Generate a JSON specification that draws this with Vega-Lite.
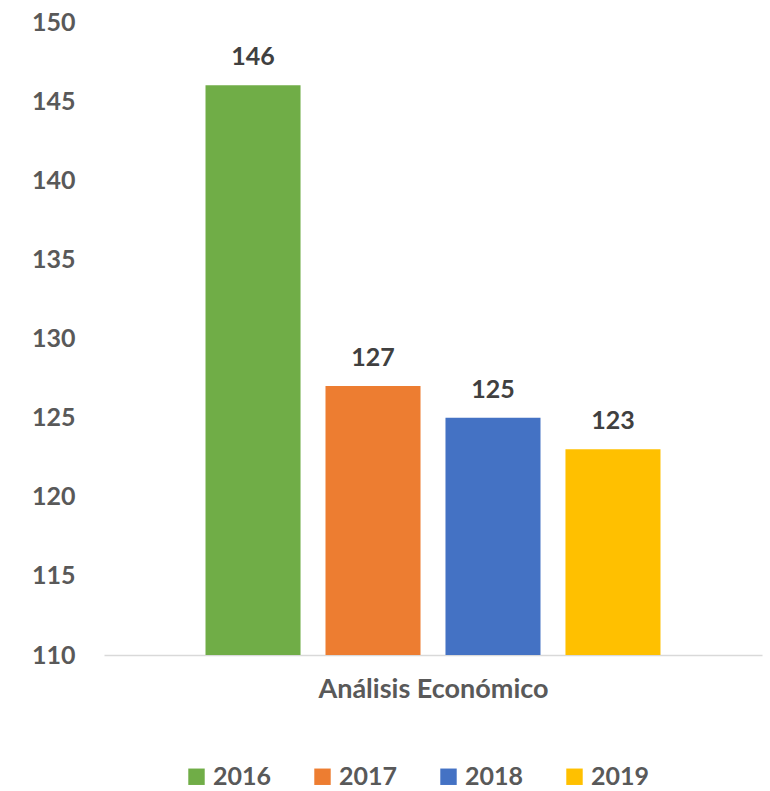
{
  "$schema": "https://vega.github.io/schema/vega-lite/v6.json",
  "autosize": "none",
  "width": 658,
  "height": 633,
  "padding": {"left": 104, "top": 22, "right": 8, "bottom": 136},
  "config": {"view": {"stroke": null}, "font": "Lato"},
  "data": {"values": [
    {"year": "2016", "value": 146},
    {"year": "2017", "value": 127},
    {"year": "2018", "value": 125},
    {"year": "2019", "value": 123}
  ]},
  "encoding": {
    "x": {
      "field": "year", "type": "nominal",
      "scale": {"paddingInner": 0.208, "paddingOuter": 0.846},
      "axis": {
        "labels": false, "ticks": false, "domainColor": "#d9d9d9", "domainWidth": 1.5,
        "title": "Análisis Económico", "titleFont": "Lato", "titleFontSize": 27,
        "titleFontWeight": "bold", "titleColor": "#595959", "titlePadding": 21
      }
    },
    "y": {
      "field": "value", "type": "quantitative",
      "scale": {"domain": [110, 150], "nice": false, "zero": false},
      "axis": {
        "values": [110, 115, 120, 125, 130, 135, 140, 145, 150],
        "grid": false, "domain": false, "ticks": false, "title": null,
        "labelPadding": 29, "labelFont": "Lato", "labelFontSize": 25,
        "labelFontWeight": "bold", "labelColor": "#595959"
      }
    }
  },
  "layer": [
    {
      "mark": {"type": "bar"},
      "encoding": {
        "y2": {"datum": 110},
        "color": {
          "field": "year", "type": "nominal",
          "scale": {"domain": ["2016", "2017", "2018", "2019"], "range": ["#70AD47", "#ED7D31", "#4472C4", "#FFC000"]},
          "legend": {
            "title": null, "orient": "none", "direction": "horizontal",
            "legendX": 80, "legendY": 742,
            "symbolType": "square", "symbolSize": 270, "symbolStrokeWidth": 0,
            "labelFont": "Lato", "labelFontSize": 25, "labelFontWeight": "bold",
            "labelColor": "#595959", "labelOffset": 4, "columnPadding": 38
          }
        }
      }
    },
    {
      "mark": {"type": "text", "baseline": "alphabetic", "dy": -20, "font": "Lato", "fontSize": 25, "fontWeight": "bold", "color": "#404040"},
      "encoding": {"text": {"field": "value", "type": "quantitative"}}
    }
  ]
}
